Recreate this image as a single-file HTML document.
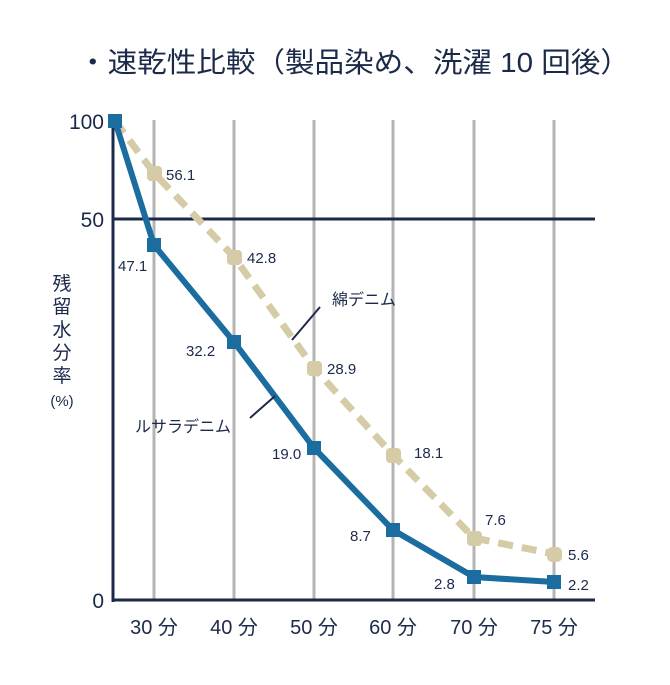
<!DOCTYPE html>
<html><head><meta charset="utf-8"><style>
body{margin:0;background:#fff}
svg text{font-family:"Liberation Sans","Noto Sans CJK JP",sans-serif;fill:#1c2a4a}
</style></head><body>
<svg width="670" height="680" xmlns="http://www.w3.org/2000/svg">
<text x="78" y="72" font-size="28" textLength="552" lengthAdjust="spacingAndGlyphs">・速乾性比較（製品染め、洗濯 10 回後）</text>
<g stroke="#b4b4b4" stroke-width="3">
<line x1="154" y1="120" x2="154" y2="600"/><line x1="234" y1="120" x2="234" y2="600"/>
<line x1="314" y1="120" x2="314" y2="600"/><line x1="393" y1="120" x2="393" y2="600"/>
<line x1="474" y1="120" x2="474" y2="600"/><line x1="554" y1="120" x2="554" y2="600"/>
</g>
<g stroke="#1c2a4a" stroke-width="3">
<line x1="113" y1="118" x2="113" y2="602"/>
<line x1="112" y1="219" x2="595" y2="219"/>
<line x1="112" y1="600" x2="595" y2="600"/>
</g>
<g font-size="21" text-anchor="end"><text x="104" y="129">100</text><text x="104" y="227">50</text><text x="104" y="608">0</text></g>
<g font-size="20" text-anchor="middle">
<text x="154" y="634">30 分</text><text x="234" y="634">40 分</text><text x="314" y="634">50 分</text>
<text x="393" y="634">60 分</text><text x="474" y="634">70 分</text><text x="554" y="634">75 分</text>
</g>
<g font-size="19" text-anchor="middle"><text x="62" y="290">残</text><text x="62" y="313">留</text><text x="62" y="336">水</text><text x="62" y="359">分</text><text x="62" y="382">率</text></g>
<text x="62" y="406" font-size="15" text-anchor="middle">(%)</text>
<polyline points="115,121 154,173 234,257 314,368 393,455 474,538 554,554" fill="none" stroke="#d5cba6" stroke-width="7" stroke-dasharray="15,9"/>
<g fill="#d5cba6">
<rect x="147" y="166" width="15" height="15" rx="4"/><rect x="227" y="250" width="15" height="15" rx="4"/>
<rect x="307" y="361" width="15" height="15" rx="4"/><rect x="386" y="448" width="15" height="15" rx="4"/>
<rect x="467" y="531" width="15" height="15" rx="4"/><rect x="547" y="547" width="15" height="15" rx="5"/>
</g>
<polyline points="115,121 154,245 234,342 314,448 393,530 474,577 554,582" fill="none" stroke="#1a6d9e" stroke-width="6"/>
<g fill="#1a6d9e">
<rect x="108" y="114" width="14" height="14"/><rect x="147" y="238" width="14" height="14"/>
<rect x="227" y="335" width="14" height="14"/><rect x="307" y="441" width="14" height="14"/>
<rect x="386" y="523" width="14" height="14"/><rect x="467" y="570" width="14" height="14"/>
<rect x="547" y="575" width="14" height="14"/>
</g>
<g font-size="15">
<text x="166" y="180">56.1</text><text x="247" y="263">42.8</text><text x="327" y="374">28.9</text>
<text x="414" y="458">18.1</text><text x="485" y="525">7.6</text><text x="568" y="560">5.6</text>
<text x="118" y="271">47.1</text><text x="186" y="356">32.2</text><text x="272" y="459">19.0</text>
<text x="350" y="541">8.7</text><text x="434" y="589">2.8</text><text x="568" y="590">2.2</text>
</g>
<g stroke="#1c2a4a" stroke-width="2"><line x1="292" y1="340" x2="320" y2="307"/><line x1="250" y1="418" x2="275" y2="396"/></g>
<text x="332" y="305" font-size="16">綿デニム</text>
<text x="135" y="432" font-size="16">ルサラデニム</text>
</svg>
</body></html>
